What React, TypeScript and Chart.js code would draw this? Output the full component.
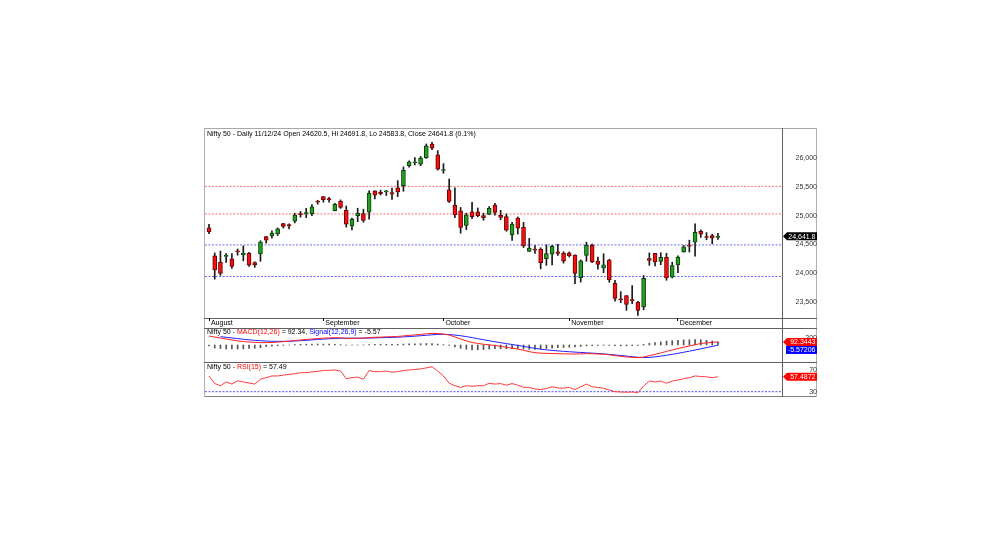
import React, { useEffect, useRef } from 'react';
import { Chart, registerables } from 'chart.js';

Chart.register(...registerables);

const FONT_FAMILY = '"Liberation Sans", Arial, Helvetica, sans-serif';
Chart.defaults.font.family = FONT_FAMILY;

// ---------------- data ----------------
const dates = [
  '2024-08-02', '2024-08-05', '2024-08-06', '2024-08-07', '2024-08-08', '2024-08-09', '2024-08-12', '2024-08-13', '2024-08-14', '2024-08-16',
  '2024-08-19', '2024-08-20', '2024-08-21', '2024-08-22', '2024-08-23', '2024-08-26', '2024-08-27', '2024-08-28', '2024-08-29', '2024-08-30',
  '2024-09-02', '2024-09-03', '2024-09-04', '2024-09-05', '2024-09-06', '2024-09-09', '2024-09-10', '2024-09-11', '2024-09-12', '2024-09-13',
  '2024-09-16', '2024-09-17', '2024-09-18', '2024-09-19', '2024-09-20', '2024-09-23', '2024-09-24', '2024-09-25', '2024-09-26', '2024-09-27',
  '2024-09-30', '2024-10-01', '2024-10-03', '2024-10-04', '2024-10-07', '2024-10-08', '2024-10-09', '2024-10-10', '2024-10-11', '2024-10-14',
  '2024-10-15', '2024-10-16', '2024-10-17', '2024-10-18', '2024-10-21', '2024-10-22', '2024-10-23', '2024-10-24', '2024-10-25', '2024-10-28',
  '2024-10-29', '2024-10-30', '2024-10-31', '2024-11-01', '2024-11-04', '2024-11-05', '2024-11-06', '2024-11-07', '2024-11-08', '2024-11-11',
  '2024-11-12', '2024-11-13', '2024-11-14', '2024-11-18', '2024-11-19', '2024-11-21', '2024-11-22', '2024-11-25', '2024-11-26', '2024-11-27',
  '2024-11-28', '2024-11-29', '2024-12-02', '2024-12-03', '2024-12-04', '2024-12-05', '2024-12-06', '2024-12-09', '2024-12-10', '2024-12-11',
];

const opens = [
  24789, 24302, 24189, 24289, 24248, 24386, 24320, 24342, 24184, 24334,
  24637, 24648, 24680, 24863, 24845, 24906, 25024, 25030, 25035, 25249,
  25333, 25300, 25089, 25250, 25094, 24823, 24999, 25035, 25060, 25431,
  25406, 25416, 25402, 25487, 25525, 25872, 25921, 25899, 26005, 26248,
  26061, 25788, 25452, 25181, 25084, 24832, 25066, 25067, 25000, 25023,
  25186, 25008, 24983, 24664, 24956, 24798, 24378, 24412, 24418, 24251,
  24328, 24371, 24349, 24348, 24315, 23920, 24308, 24489, 24207, 24087,
  24226, 23822, 23542, 23605, 23529, 23488, 23411, 24253, 24343, 24204,
  24274, 23927, 24140, 24367, 24488, 24539, 24729, 24633, 24652, 24620.5,
];
const highs = [
  24851, 24350, 24382, 24337, 24340, 24419, 24472, 24359, 24196, 24563,
  24638, 24734, 24787, 24867, 24858, 25043, 25073, 25129, 25192, 25269,
  25333, 25321, 25216, 25275, 25168, 24957, 25130, 25113, 25433, 25431,
  25445, 25441, 25482, 25611, 25849, 25956, 26011, 26032, 26250, 26277,
  26134, 25907, 25639, 25485, 25143, 25044, 25234, 25134, 25044, 25159,
  25213, 25093, 25029, 24886, 24978, 24882, 24604, 24480, 24440, 24492,
  24484, 24499, 24372, 24368, 24316, 24229, 24537, 24503, 24276, 24336,
  24242, 23873, 23675, 23606, 23780, 23507, 23956, 24351, 24343, 24354,
  24345, 24188, 24301, 24481, 24573, 24857, 24751, 24705, 24677, 24691.8,
];
const lows = [
  24687, 23893, 23960, 24184, 24079, 24311, 24212, 24116, 24099, 24204,
  24522, 24607, 24654, 24784, 24771, 24874, 24973, 24964, 24998, 25199,
  25235, 25235, 25083, 25127, 24801, 24753, 24896, 24885, 24941, 25292,
  25360, 25352, 25285, 25332, 25426, 25847, 25886, 25871, 25998, 26151,
  25794, 25739, 25230, 24966, 24694, 24756, 24947, 24979, 24920, 25017,
  25008, 24929, 24728, 24567, 24679, 24445, 24378, 24341, 24073, 24134,
  24140, 24307, 24172, 24280, 23816, 23842, 24204, 24179, 24066, 24005,
  23839, 23510, 23484, 23350, 23465, 23263, 23359, 24135, 24125, 24145,
  23874, 23915, 24008, 24363, 24366, 24295, 24621, 24580, 24510, 24583.8,
];
const closes = [
  24718, 24055, 23992, 24297, 24117, 24367, 24347, 24139, 24143, 24541,
  24572, 24698, 24770, 24811, 24823, 25010, 25017, 25052, 25152, 25236,
  25279, 25280, 25199, 25145, 24852, 24936, 25041, 24918, 25389, 25356,
  25383, 25418, 25377, 25415, 25791, 25939, 25940, 26004, 26216, 26178,
  25810, 25797, 25250, 25015, 24796, 25013, 24982, 24998, 24964, 25128,
  25057, 24971, 24749, 24854, 24781, 24472, 24435, 24399, 24181, 24339,
  24467, 24341, 24205, 24304, 23995, 24213, 24484, 24199, 24148, 24141,
  23883, 23559, 23532, 23453, 23518, 23349, 23907, 24221, 24194, 24274,
  23914, 24131, 24276, 24457, 24468, 24708, 24677, 24620, 24610, 24641.8,
];

const macdValues = [
  270, 240, 210, 180, 150, 125, 105, 90, 78, 70,
  72, 78, 88, 100, 115, 135, 150, 165, 180, 195,
  205, 212, 218, 215, 200, 198, 203, 207, 222, 232,
  238, 244, 250, 258, 272, 288, 302, 318, 336, 350,
  345, 330, 300, 240, 180, 125, 75, 48, 22, 5,
  -15, -40, -70, -95, -120, -160, -200, -230, -245, -250,
  -255, -260, -265, -268, -270, -266, -258, -262, -270, -278,
  -292, -320, -340, -358, -370, -380, -360, -320, -280, -240,
  -190, -150, -110, -65, -30, 10, 45, 65, 80, 92.34,
];
const signalValues = [
  null, null, 250, 232, 212, 192, 172, 155, 140, 128,
  118, 112, 110, 110, 114, 120, 130, 140, 152, 165,
  177, 188, 198, 204, 205, 204, 204, 205, 208, 213,
  218, 223, 228, 235, 243, 253, 265, 278, 292, 306,
  318, 320, 312, 298, 278, 252, 222, 190, 158, 128,
  98, 70, 42, 15, -12, -42, -72, -100, -125, -145,
  -162, -177, -190, -202, -213, -224, -234, -244, -255, -268,
  -282, -298, -315, -333, -352, -368, -378, -372, -355, -333,
  -308, -280, -250, -218, -185, -150, -115, -78, -42, -5.57,
];
const histValues = [
  -30, -90, -105, -115, -120, -120, -115, -105, -95, -80,
  -46, -34, -22, -10, 1, 15, 20, 25, 28, 30,
  28, 24, 20, 11, -5, -6, -1, 2, 14, 19,
  20, 21, 22, 23, 29, 35, 37, 40, 44, 44,
  27, 10, -12, -58, -98, -127, -147, -142, -136, -123,
  -113, -110, -112, -110, -108, -118, -128, -130, -120, -105,
  -93, -83, -75, -66, -57, -42, -24, -18, -15, -10,
  -10, -22, -25, -25, -18, -12, 18, 52, 75, 93,
  118, 130, 140, 153, 155, 160, 160, 143, 122, 98,
];
const rsiValues = [
  59, 45, 41, 48, 44, 50, 48, 46, 44, 53,
  56, 59, 59, 60.5, 62, 63, 65, 65, 66.5, 67.5,
  69, 69.5, 70, 68, 54, 56, 57, 53, 69, 67,
  67, 68, 66, 67, 69, 70, 71, 72, 74, 76,
  68, 59, 45.5, 41, 38, 41, 40, 41, 41, 45.5,
  44, 45, 42, 45, 42, 38, 38, 35, 34, 36,
  39, 37, 36.5, 38, 34, 39, 44, 39, 38, 36.5,
  33, 30, 29.5, 29, 29.5, 28, 40.5, 49.7, 48, 49.5,
  45.5, 49.7, 51.4, 54, 55.8, 59, 58, 57.5, 56, 57.49,
];

const priceTicks = [23500, 24000, 24500, 25000, 25500, 26000];
const macdTicks = [-200, 200];
const rsiTicks = [30, 70];
const resistanceLevels = [25510, 25030];
const supportLevels = [24490, 23940];
const rsiLevels = [30];
const monthNames = ['January', 'February', 'March', 'April', 'May', 'June', 'July', 'August', 'September', 'October', 'November', 'December'];

const mainTitle = 'Nifty 50 - Daily 11/12/24 Open 24620.5, Hi 24691.8, Lo 24583.8, Close 24641.8 (0.1%)';

// ---------------- layout constants ----------------
const X_MIN = -0.7;
const X_MAX = 100.2;
const FRAME_LEFT = 204;
const FRAME_TOP = 128;
const FRAME_W = 613;
const AXIS_W = 35;
const MAIN_H = 200;
const MACD_H = 34;
const RSI_H = 35;

const monthStartIdx = dates
  .map((d, i) => (i === 0 || d.slice(5, 7) !== dates[i - 1].slice(5, 7) ? i : -1))
  .filter((i) => i >= 0);
const monthTickLabels = monthStartIdx.map((i) => monthNames[Number(dates[i].slice(5, 7)) - 1]);

const fmtThousands = (v: number) => Number(v).toLocaleString('en-US');

function xScale(show: boolean): any {
  if (!show) return { type: 'linear', min: X_MIN, max: X_MAX, display: false, offset: false };
  return {
    type: 'linear',
    min: X_MIN,
    max: X_MAX,
    offset: false,
    afterBuildTicks: (s: any) => {
      s.ticks = monthStartIdx.map((v) => ({ value: v }));
    },
    afterFit: (s: any) => {
      s.height = 10;
      s.paddingLeft = 0;
      s.paddingRight = 0;
    },
    ticks: {
      autoSkip: false,
      maxRotation: 0,
      minRotation: 0,
      align: 'start',
      padding: -2,
      color: '#000',
      font: { family: FONT_FAMILY, size: 7 },
      callback: (v: number) => {
        const k = monthStartIdx.indexOf(v);
        return k >= 0 ? ' ' + monthTickLabels[k] : '';
      },
    },
    grid: { display: true, drawOnChartArea: false, drawTicks: true, tickLength: 3, color: '#000', offset: false },
    border: { display: false },
  };
}

function yScale(min: number, max: number, ticks: number[], padding: number, fmt: (v: number) => string): any {
  return {
    position: 'right',
    min,
    max,
    afterBuildTicks: (s: any) => {
      s.ticks = ticks.map((v) => ({ value: v }));
    },
    afterFit: (s: any) => {
      s.width = AXIS_W;
      s.paddingTop = 0;
      s.paddingBottom = 0;
    },
    ticks: {
      autoSkip: false,
      crossAlign: 'far',
      padding,
      color: '#333',
      font: { family: FONT_FAMILY, size: 7 },
      callback: fmt,
    },
    grid: { display: false, drawTicks: false },
    border: { display: false },
  };
}

type TitlePart = { text: string; color: string };
type Tag = { value: number; text: string; bg: string; fg: string; arrow: boolean; stackBelow?: boolean };

function overlayPlugin(id: string, title: TitlePart[], titleY: number, tags: Tag[]): any {
  return {
    id,
    afterDraw(chart: any) {
      const ctx = chart.ctx;
      const area = chart.chartArea;
      const yS = chart.scales.y;
      ctx.save();
      ctx.font = `7px ${FONT_FAMILY}`;
      ctx.textBaseline = 'middle';
      ctx.textAlign = 'left';
      let x = area.left + 2;
      for (const p of title) {
        ctx.fillStyle = p.color;
        ctx.fillText(p.text, x, titleY);
        x += ctx.measureText(p.text).width;
      }
      let prevBottom = -Infinity;
      const h = 8;
      for (const t of tags) {
        let y = yS.getPixelForValue(t.value);
        if (t.stackBelow && y - h / 2 < prevBottom) y = prevBottom + h / 2;
        const left = area.right + 1;
        const right = chart.width;
        ctx.fillStyle = t.bg;
        ctx.beginPath();
        if (t.arrow) {
          ctx.moveTo(left, y);
          ctx.lineTo(left + 4, y - h / 2);
          ctx.lineTo(right, y - h / 2);
          ctx.lineTo(right, y + h / 2);
          ctx.lineTo(left + 4, y + h / 2);
        } else {
          ctx.moveTo(left + 3, y - h / 2);
          ctx.lineTo(right, y - h / 2);
          ctx.lineTo(right, y + h / 2);
          ctx.lineTo(left + 3, y + h / 2);
        }
        ctx.closePath();
        ctx.fill();
        ctx.fillStyle = t.fg;
        ctx.textAlign = 'right';
        ctx.fillText(t.text, right - 1.5, y + 0.5);
        ctx.textAlign = 'left';
        prevBottom = y + h / 2;
      }
      ctx.restore();
    },
  };
}

const baseOptions = (padTop: number): any => ({
  responsive: false,
  maintainAspectRatio: false,
  animation: false,
  events: [],
  layout: { padding: { left: 1, top: padTop, right: 0, bottom: 0 } },
  plugins: { legend: { display: false }, tooltip: { enabled: false } },
});

function levelDataset(level: number, color: string, order: number): any {
  return {
    type: 'line',
    data: [
      { x: X_MIN, y: level },
      { x: X_MAX, y: level },
    ],
    borderColor: color,
    backgroundColor: color,
    borderWidth: 1,
    borderDash: [2, 1.5],
    pointRadius: 0,
    fill: false,
    order,
  };
}

function makeMain(canvas: HTMLCanvasElement) {
  const isUp = (i: number) => closes[i] >= opens[i];
  const datasets: any[] = [
    ...resistanceLevels.map((v) => levelDataset(v, '#ff7070', 3)),
    ...supportLevels.map((v) => levelDataset(v, '#6a6aff', 3)),
    {
      type: 'bar',
      data: dates.map((_, i) => ({ x: i, y: [lows[i], highs[i]] })),
      backgroundColor: '#1a1a1a',
      borderWidth: 0,
      barThickness: 1,
      grouped: false,
      order: 2,
    },
    {
      type: 'bar',
      data: dates.map((_, i) => ({ x: i, y: [opens[i], closes[i]] })),
      backgroundColor: (c: any) => (isUp(c.dataIndex) ? '#22a022' : '#f51010'),
      borderColor: (c: any) => (isUp(c.dataIndex) ? '#0b3f0b' : '#6a0000'),
      borderWidth: 1,
      borderSkipped: false,
      barThickness: 4,
      minBarLength: 1,
      grouped: false,
      order: 1,
    },
  ];
  return new Chart(canvas, {
    type: 'bar',
    data: { datasets },
    options: {
      ...baseOptions(1),
      scales: {
        x: xScale(true),
        y: yScale(23216, 26511, priceTicks, 9, fmtThousands),
      },
    },
    plugins: [
      overlayPlugin('mainOverlay', [{ text: mainTitle, color: '#000' }], 6.5, [
        { value: closes[closes.length - 1], text: '24,641.8', bg: '#000', fg: '#fff', arrow: true },
      ]),
    ],
  } as any);
}

function makeMacd(canvas: HTMLCanvasElement) {
  const datasets: any[] = [
    {
      type: 'line',
      data: dates.map((_, i) => ({ x: i, y: macdValues[i] })),
      borderColor: '#ff2020',
      borderWidth: 1,
      pointRadius: 0,
      order: 1,
    },
    {
      type: 'line',
      data: dates.map((_, i) => ({ x: i, y: signalValues[i] })),
      borderColor: '#2020ff',
      borderWidth: 1,
      pointRadius: 0,
      order: 2,
    },
    {
      type: 'bar',
      data: dates.map((_, i) => ({ x: i, y: histValues[i] })),
      backgroundColor: '#555',
      borderWidth: 0,
      barThickness: 1,
      grouped: false,
      order: 3,
    },
  ];
  return new Chart(canvas, {
    type: 'bar',
    data: { datasets },
    options: {
      ...baseOptions(0),
      scales: {
        x: xScale(false),
        y: yScale(-510, 510, macdTicks, 16.5, (v: number) => String(v)),
      },
    },
    plugins: [
      overlayPlugin(
        'macdOverlay',
        [
          { text: 'Nifty 50 - ', color: '#000' },
          { text: 'MACD(12,26)', color: '#ff0000' },
          { text: ' = 92.34, ', color: '#000' },
          { text: 'Signal(12,26,9)', color: '#0000ff' },
          { text: ' = -5.57', color: '#000' },
        ],
        4.3,
        [
          { value: macdValues[macdValues.length - 1], text: '92.3443', bg: '#ff0000', fg: '#fff', arrow: true },
          { value: signalValues[signalValues.length - 1] as number, text: '-5.57206', bg: '#0000ff', fg: '#fff', arrow: false, stackBelow: true },
        ]
      ),
    ],
  } as any);
}

function makeRsi(canvas: HTMLCanvasElement) {
  const datasets: any[] = [
    ...rsiLevels.map((v) => levelDataset(v, '#5050ff', 2)),
    {
      type: 'line',
      data: dates.map((_, i) => ({ x: i, y: rsiValues[i] })),
      borderColor: '#ff3b3b',
      borderWidth: 1,
      pointRadius: 0,
      order: 1,
    },
  ];
  return new Chart(canvas, {
    type: 'line',
    data: { datasets },
    options: {
      ...baseOptions(0),
      scales: {
        x: xScale(false),
        y: yScale(20.23, 84.75, rsiTicks, 22.7, (v: number) => String(v)),
      },
    },
    plugins: [
      overlayPlugin(
        'rsiOverlay',
        [
          { text: 'Nifty 50 - ', color: '#000' },
          { text: 'RSI(15)', color: '#ff0000' },
          { text: ' = 57.49', color: '#000' },
        ],
        5.3,
        [{ value: rsiValues[rsiValues.length - 1], text: '57.4872', bg: '#ff0000', fg: '#fff', arrow: true }]
      ),
    ],
  } as any);
}

const lineStyle = (left: number, top: number, width: number, height: number, color: string): React.CSSProperties => ({
  position: 'absolute',
  left,
  top,
  width,
  height,
  background: color,
});

export default function App() {
  const mainRef = useRef<HTMLCanvasElement | null>(null);
  const macdRef = useRef<HTMLCanvasElement | null>(null);
  const rsiRef = useRef<HTMLCanvasElement | null>(null);

  useEffect(() => {
    const charts: Chart[] = [];
    if (mainRef.current) charts.push(makeMain(mainRef.current));
    if (macdRef.current) charts.push(makeMacd(macdRef.current));
    if (rsiRef.current) charts.push(makeRsi(rsiRef.current));
    return () => {
      charts.forEach((c) => c.destroy());
    };
  }, []);

  const frameBottom = FRAME_TOP + MAIN_H + MACD_H + RSI_H;
  const frameH = frameBottom - FRAME_TOP;
  const axisX = FRAME_LEFT + FRAME_W - AXIS_W;

  return (
    <div style={{ position: 'absolute', left: 0, top: 0, width: 1000, height: 539, background: '#fff', overflow: 'hidden' }}>
      {/* frame */}
      <div style={lineStyle(FRAME_LEFT, FRAME_TOP, FRAME_W, 1, '#a8a8a8')} />
      <div style={lineStyle(FRAME_LEFT, frameBottom - 1, FRAME_W, 1, '#808080')} />
      <div style={lineStyle(FRAME_LEFT, FRAME_TOP, 1, frameH, '#b0b0b0')} />
      <div style={lineStyle(FRAME_LEFT + FRAME_W - 1, FRAME_TOP, 1, frameH, '#b0b0b0')} />
      <div style={lineStyle(FRAME_LEFT, FRAME_TOP + MAIN_H - 10, FRAME_W, 1, '#606060')} />
      <div style={lineStyle(FRAME_LEFT, FRAME_TOP + MAIN_H, FRAME_W, 1, '#606060')} />
      <div style={lineStyle(FRAME_LEFT, FRAME_TOP + MAIN_H + MACD_H, FRAME_W, 1, '#606060')} />
      <div style={lineStyle(axisX, FRAME_TOP, 1, frameH, '#606060')} />
      <canvas
        ref={mainRef}
        width={FRAME_W}
        height={MAIN_H}
        style={{ position: 'absolute', left: FRAME_LEFT, top: FRAME_TOP, width: FRAME_W, height: MAIN_H, display: 'block' }}
      />
      <canvas
        ref={macdRef}
        width={FRAME_W}
        height={MACD_H}
        style={{ position: 'absolute', left: FRAME_LEFT, top: FRAME_TOP + MAIN_H, width: FRAME_W, height: MACD_H, display: 'block' }}
      />
      <canvas
        ref={rsiRef}
        width={FRAME_W}
        height={RSI_H}
        style={{ position: 'absolute', left: FRAME_LEFT, top: FRAME_TOP + MAIN_H + MACD_H, width: FRAME_W, height: RSI_H, display: 'block' }}
      />
    </div>
  );
}
